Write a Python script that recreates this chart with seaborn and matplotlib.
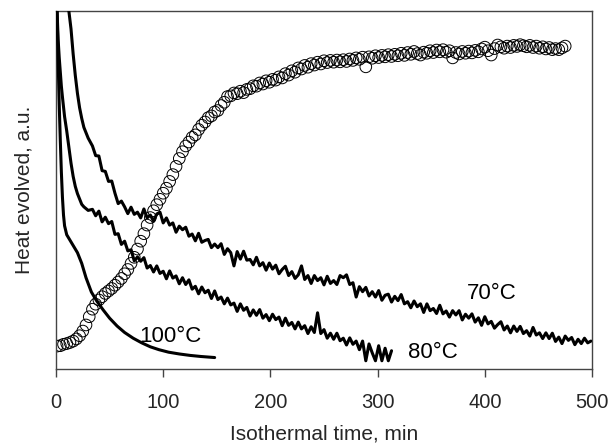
import numpy as np
import pandas as pd
import matplotlib
matplotlib.use("Agg")
import matplotlib.pyplot as plt
import seaborn as sns

# ---- data (arbitrary units 0-100) ----
t70 = [10, 12, 14, 16, 18, 20, 22, 24, 26, 28, 30] + list(range(34, 500, 3))
y70 = [108, 100, 95, 88, 82, 77, 73, 70, 67.5, 66, 64.5,
       62.3, 59.6, 59.5, 55.4, 55.2, 52.4, 52.5, 49.1, 46.2, 46.9,
       45.3, 43.4, 45.2, 43.2, 43.8, 42.2, 44.7, 42.2, 43.0, 41.3,
       43.3, 43.8, 40.8, 42.2, 40.2, 40.8, 38.2, 39.9, 38.9, 39.6,
       37.1, 37.7, 35.8, 37.9, 35.4, 35.9, 36.2, 33.9, 34.9, 33.9,
       35.0, 32.0, 33.6, 32.5, 28.8, 32.8, 30.7, 32.9, 30.4, 30.6,
       29.1, 31.2, 28.8, 29.7, 27.6, 29.6, 27.9, 29.0, 26.6, 27.8,
       28.7, 26.1, 27.2, 25.3, 26.3, 28.8, 25.0, 26.1, 23.9, 26.1,
       24.7, 25.5, 23.5, 25.9, 23.9, 24.7, 23.6, 26.1, 25.5, 26.3,
       23.6, 24.1, 20.1, 23.0, 21.6, 22.8, 20.4, 21.6, 20.1, 21.9,
       19.2, 20.6, 20.9, 18.7, 20.3, 19.1, 20.8, 18.2, 18.8, 17.1,
       19.0, 17.4, 18.2, 15.8, 18.2, 16.3, 16.9, 15.5, 17.8, 15.4,
       16.2, 14.5, 16.3, 15.1, 16.3, 13.7, 15.3, 14.2, 15.4, 13.1,
       14.3, 12.2, 14.6, 12.6, 13.3, 11.4, 12.4, 13.2, 10.9, 12.0,
       10.1, 12.0, 10.5, 11.9, 9.9, 10.7, 9.2, 11.6, 9.5, 10.1,
       8.5, 10.1, 8.5, 10.0, 7.7, 8.9, 7.1, 9.2, 8.0, 8.8,
       6.8, 8.3, 7.1, 8.6, 7.3, 7.8]

t80 = [0, 1, 2, 3, 4, 5, 6, 8, 10, 12, 14, 16, 18, 20, 22, 24, 26, 28, 30] + list(range(34, 314, 3))
y80 = [120, 100, 92, 87, 83, 79, 76, 70.5, 66.5, 62, 57.5, 53.8, 51, 49, 47.5, 46, 45.3, 44.8, 44.3,
       44.6, 42.8, 44.1, 41.1, 42.4, 40.6, 41.2, 37.6, 37.8, 34.8,
       35.7, 33.0, 33.3, 30.2, 31.3, 30.1, 31.1, 28.2, 28.9, 27.1,
       28.8, 26.7, 27.3, 25.2, 27.4, 25.4, 26.0, 23.8, 25.5, 23.6,
       24.9, 22.3, 23.1, 21.0, 22.9, 21.3, 22.0, 19.7, 21.8, 19.4,
       20.1, 18.2, 19.8, 17.9, 18.4, 16.1, 18.2, 16.4, 17.2, 14.8,
       16.5, 15.0, 16.6, 14.2, 15.2, 13.5, 15.3, 13.8, 14.5, 12.1,
       14.2, 12.2, 13.0, 11.2, 13.1, 11.2, 12.1, 9.9, 11.8, 10.2,
       15.7, 9.9, 11.0, 8.6, 10.0, 8.3, 10.0, 7.9, 8.6, 6.7,
       8.7, 6.9, 7.8, 5.4, 7.8, 2.3, 7.0, 4.5, 2.3, 6.5,
       2.3, 5.8, 2.3, 5.1]

t100 = [0, 1, 2, 3, 4, 5, 6, 7, 8, 10, 12, 14, 17, 20, 24, 28, 33, 38, 44, 50,
        57, 64, 72, 80, 88, 96, 105, 115, 125, 135, 148]
y100 = [130, 100, 86, 74, 64, 55, 48, 43, 40, 37.5, 36.5, 35.5, 34, 32.5, 29.5, 25.5, 21.5, 19, 16.5, 14.2,
        12, 10.2, 8.6, 7.3, 6.2, 5.4, 4.7, 4.2, 3.8, 3.5, 3.2]

t_circ = list(range(1, 476, 3))
y_circ = [6.4, 6.5, 6.9, 7.1, 7.4, 7.8, 8.4, 9.3, 10.6, 12.3,
          14.6, 16.7, 18.1, 19.3, 20.2, 21.1, 21.8, 22.5, 23.4, 24.3,
          25.3, 26.6, 27.8, 29.5, 31.2, 33.5, 35.7, 37.8, 40.2, 42.3,
          44.2, 45.9, 47.4, 49.1, 50.5, 52.4, 54.3, 56.6, 58.8, 60.7,
          62.3, 63.4, 64.7, 65.4, 66.9, 68.1, 69.0, 70.2, 70.7, 71.8,
          72.2, 73.6, 74.5, 76.1, 76.3, 77.1, 76.9, 77.6, 77.2, 78.1,
          78.3, 79.1, 79.0, 79.9, 79.6, 80.5, 80.1, 80.9, 80.7, 81.6,
          81.3, 82.5, 82.1, 83.3, 82.9, 84.1, 83.8, 84.8, 84.3, 85.3,
          84.9, 85.7, 85.2, 86.1, 85.6, 86.2, 85.7, 86.3, 85.8, 86.4,
          85.9, 86.6, 86.2, 86.9, 86.5, 87.1, 84.4, 87.2, 86.8, 87.5,
          87.0, 87.6, 87.2, 87.8, 87.3, 87.9, 87.5, 88.2, 87.6, 88.4,
          87.9, 88.7, 88.1, 87.7, 88.5, 88.2, 88.9, 88.4, 89.1, 88.6,
          89.2, 88.5, 88.9, 86.9, 88.4, 88.0, 88.7, 88.2, 88.8, 88.3,
          89.0, 88.6, 89.4, 89.9, 88.9, 87.7, 89.5, 90.5, 90.0, 89.6,
          90.2, 89.8, 90.4, 90.1, 90.6, 90.3, 90.0, 90.4, 89.8, 90.2,
          89.6, 90.0, 89.4, 89.8, 89.2, 89.5, 89.2, 89.7, 90.2]

labels = ["70°C", "80°C", "100°C"]
label_x = [383, 328, 78]
label_y = [21.2, 4.7, 9.2]
xticks = [0, 100, 200, 300, 400, 500]

# ---- plot ----
sns.set_theme(style="white")
plt.rcParams['font.family'] = ['Liberation Sans', 'DejaVu Sans']

fig = plt.figure(figsize=(6.13, 4.44), dpi=100)
ax = fig.add_axes([56/613, 1-369/444, (592-56)/613, (369-11)/444])

df70 = pd.DataFrame({"t": t70, "y": y70})
df80 = pd.DataFrame({"t": t80, "y": y80})
df100 = pd.DataFrame({"t": t100, "y": y100})
dfc = pd.DataFrame({"t": t_circ, "y": y_circ})

sns.scatterplot(data=dfc, x="t", y="y", ax=ax, marker="o", s=70,
                facecolor="none", edgecolor="black", linewidth=0.7, zorder=2)
for d in (df70, df80, df100):
    sns.lineplot(data=d, x="t", y="y", ax=ax, color="black", lw=2.2,
                 estimator=None, sort=False, zorder=3)

for lab, lx, ly in zip(labels, label_x, label_y):
    ax.text(lx, ly, lab, fontsize=16, color="black", va="center", ha="left")

ax.set_xlim(0, 500)
ax.set_ylim(0, 100)
ax.set_xticks(xticks)
ax.set_yticks([])
ax.tick_params(axis="x", direction="out", length=6, width=1, color="#444444",
               labelsize=14.5, pad=11, bottom=True)
ax.set_xlabel("Isothermal time, min", fontsize=15, labelpad=9)
ax.set_ylabel("Heat evolved, a.u.", fontsize=15, labelpad=16)
for sp in ax.spines.values():
    sp.set_color("#444444")
    sp.set_linewidth(1.0)

fig.savefig("out.png", dpi=100)
